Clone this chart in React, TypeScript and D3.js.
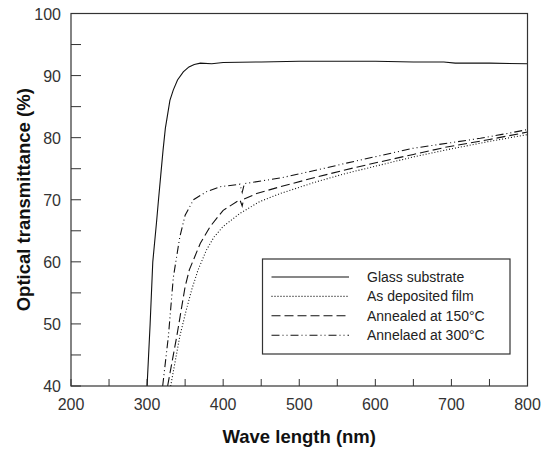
import React from 'react';
import * as d3 from 'd3';

// wavelength (nm), transmittance (%)
const glass: [number, number][] = [
  [300, 40], [304, 50], [307.5, 60], [312.5, 66.5], [315, 70], [318, 74], [321, 78],
  [324, 81.5], [326, 83], [330, 86], [334.5, 87.7], [340, 89.3], [347.6, 90.6],
  [355, 91.4], [362, 91.8], [370, 92], [385, 91.9], [400, 92.1], [450, 92.2],
  [500, 92.3], [550, 92.3], [600, 92.3], [650, 92.2], [690, 92.2], [705, 92],
  [750, 92], [800, 91.9],
];
const asDeposited: [number, number][] = [
  [331, 40], [343, 48], [351, 52], [358.6, 55.5], [367, 58.7], [378, 61.9],
  [388, 64], [400, 65.7], [422, 67.8], [448, 69.7], [475, 71], [520, 72.8],
  [560, 74.2], [600, 75.4], [650, 76.9], [700, 78.2], [750, 79.4], [800, 80.5],
];
const annealed150: [number, number][] = [
  [327, 40], [339, 48], [350, 56], [355.5, 58.7], [370, 63], [383, 65.7],
  [400, 68.3], [422, 70], [425, 69], [427, 70.1], [444, 71], [475, 72.1],
  [518, 73.5], [560, 74.8], [606, 76.1], [650, 77.3], [694, 78.5], [750, 79.7],
  [800, 80.9],
];
const annealed300: [number, number][] = [
  [320.5, 40], [328, 48], [334.5, 57.5], [343, 64], [350, 67.5], [361, 70],
  [378, 71.3], [396, 72.1], [422, 72.5], [425, 71.2], [428, 72.6], [475, 73.5],
  [520, 74.7], [562, 75.9], [606, 77.1], [650, 78.3], [700, 79.2], [738, 79.9],
  [770, 80.6], [800, 81.3],
];

const seriesNames = ['Glass substrate', 'As deposited film', 'Annealed at 150°C', 'Annelaed at 300°C'];
const seriesData = [glass, asDeposited, annealed150, annealed300];
const seriesDash = [null, '1,2', '9,4', '8,3,1,3,1,3'];

const xMajor = [200, 300, 400, 500, 600, 700, 800];
const xMinor = [250, 350, 450, 550, 650, 750];
const yMajor = [40, 50, 60, 70, 80, 90, 100];
const yMinor = [45, 55, 65, 75, 85, 95];

const W = 549;
const H = 452;
const left = 71, right = 527.5, top = 13.5, bottom = 386;

export default function App() {
  const x = d3.scaleLinear().domain([200, 800]).range([left, right]);
  const y = d3.scaleLinear().domain([40, 100]).range([bottom, top]);
  const line = d3
    .line<[number, number]>()
    .x(d => x(d[0]))
    .y(d => y(d[1]));

  const font = 'Arial, "Liberation Sans", sans-serif';

  return (
    <svg
      width={W}
      height={H}
      style={{ position: 'absolute', left: 0, top: 0, background: '#fff' }}
      fontFamily={font}
    >
      <defs>
        <clipPath id="plot">
          <rect x={left} y={top} width={right - left} height={bottom - top} />
        </clipPath>
      </defs>

      {/* ticks, inside the frame */}
      <g stroke="#333" strokeWidth={1}>
        {xMajor.concat(xMinor).map(v => (
          <line key={'x' + v} x1={x(v)} x2={x(v)} y1={bottom} y2={bottom - 7} />
        ))}
        {yMajor.concat(yMinor).map(v => (
          <line key={'y' + v} x1={left} x2={left + 10} y1={y(v)} y2={y(v)} />
        ))}
      </g>

      <g fill="#333" fontSize={16}>
        {xMajor.map(v => (
          <text key={v} x={x(v)} y={410} textAnchor="middle">{v}</text>
        ))}
        {yMajor.map(v => (
          <text key={v} x={61} y={y(v) + 6} textAnchor="end">{v}</text>
        ))}
      </g>

      <g clipPath="url(#plot)" fill="none" stroke="#111" strokeWidth={1.1}>
        {seriesData.map((d, i) => (
          <path key={i} d={line(d) || ''} strokeDasharray={seriesDash[i] || undefined} />
        ))}
      </g>

      <rect x={left} y={top} width={right - left} height={bottom - top}
        fill="none" stroke="#333" strokeWidth={1.2} />

      {/* legend */}
      <rect x={262.5} y={259} width={247.5} height={95} fill="#fff" stroke="#333" strokeWidth={1.2} />
      {seriesNames.map((name, i) => {
        const ly = 277 + i * 19.4;
        return (
          <g key={name}>
            <line x1={271.5} x2={349} y1={ly} y2={ly} stroke="#111" strokeWidth={1.1}
              strokeDasharray={seriesDash[i] || undefined} />
            <text x={367} y={ly + 5} fontSize={14} fill="#222">{name}</text>
          </g>
        );
      })}

      <text x={(left + right) / 2} y={443} textAnchor="middle" fontSize={18.5} fontWeight="bold" fill="#111">
        Wave length (nm)
      </text>
      <text transform={`translate(30,${(top + bottom) / 2}) rotate(-90)`} textAnchor="middle"
        fontSize={18.5} fontWeight="bold" fill="#111">
        Optical transmittance (%)
      </text>
    </svg>
  );
}
